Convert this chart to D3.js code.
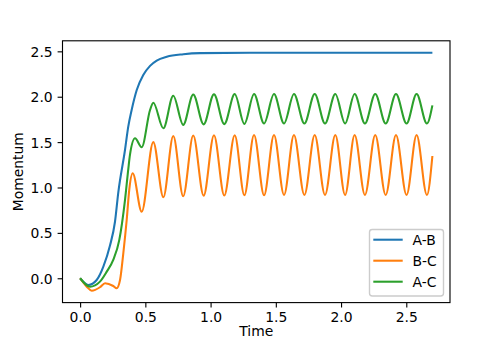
<!DOCTYPE html>
<html>
<head>
<meta charset="utf-8">
<script src="https://cdn.jsdelivr.net/npm/d3@7"></script>
<style>
  html, body { margin: 0; padding: 0; background: #fff; }
  svg { display: block; font-family: "DejaVu Sans", sans-serif; }
</style>
</head>
<body>
<svg id="chart" width="500" height="340"></svg>
<script>
// Momentum of each pair over time
const abTime  = [0, 0.063, 0.127, 0.178, 0.229, 0.267, 0.293, 0.344, 0.369, 0.395, 0.434, 0.484, 0.536, 0.587, 0.664, 0.791, 0.919, 1.30, 2.70];
const abValue = [0, -0.074, -0.019, 0.128, 0.360, 0.620, 0.950, 1.413, 1.670, 1.854, 2.074, 2.239, 2.340, 2.398, 2.440, 2.468, 2.480, 2.485, 2.485];

const bcTime  = [0, 0.051, 0.089, 0.152, 0.191, 0.254, 0.280, 0.306, 0.331, 0.357, 0.377, 0.403, 0.472, 0.561,
                 0.638, 0.714, 0.790, 0.867, 0.947, 1.026, 1.105, 1.185, 1.259, 1.333, 1.410, 1.486, 1.563, 1.639,
                 1.719, 1.798, 1.877, 1.956, 2.031, 2.104, 2.183, 2.262, 2.342, 2.421, 2.502, 2.579, 2.658, 2.700];
const bcValue = [0, -0.093, -0.137, -0.099, -0.055, -0.085, -0.110, -0.019, 0.275, 0.642, 0.980, 1.156, 0.733, 1.500,
                 0.892, 1.567, 0.905, 1.572, 0.910, 1.575, 0.912, 1.575, 0.915, 1.578, 0.915, 1.578, 0.917, 1.578,
                 0.917, 1.578, 0.917, 1.578, 0.917, 1.578, 0.917, 1.578, 0.917, 1.578, 0.917, 1.578, 0.917, 1.347];

const acTime  = [0, 0.076, 0.152, 0.204, 0.254, 0.300, 0.344, 0.369, 0.382, 0.421, 0.472, 0.536, 0.561,
                 0.638, 0.714, 0.790, 0.867, 0.947, 1.026, 1.105, 1.185, 1.259, 1.333, 1.410, 1.486, 1.563, 1.639,
                 1.719, 1.798, 1.877, 1.956, 2.031, 2.104, 2.183, 2.262, 2.342, 2.421, 2.502, 2.579, 2.658, 2.700];
const acValue = [0, -0.093, -0.037, 0.073, 0.202, 0.420, 0.862, 1.200, 1.360, 1.542, 1.443, 1.854, 1.934,
                 1.652, 2.011, 1.690, 2.025, 1.695, 2.028, 1.698, 2.030, 1.700, 2.030, 1.705, 2.030, 1.705, 2.030,
                 1.705, 2.030, 1.705, 2.030, 1.705, 2.030, 1.705, 2.030, 1.705, 2.030, 1.705, 2.030, 1.705, 1.905];

const seriesNames  = ["A-B", "B-C", "A-C"];
const seriesColors = ["#1f77b4", "#ff7f0e", "#2ca02c"];
const xTicks = [0.0, 0.5, 1.0, 1.5, 2.0, 2.5];
const yTicks = [0.0, 0.5, 1.0, 1.5, 2.0, 2.5];
const xTitle = "Time";
const yTitle = "Momentum";

const series = [
  { name: seriesNames[0], color: seriesColors[0], pts: abTime.map((t, i) => [t, abValue[i]]) },
  { name: seriesNames[1], color: seriesColors[1], pts: bcTime.map((t, i) => [t, bcValue[i]]) },
  { name: seriesNames[2], color: seriesColors[2], pts: acTime.map((t, i) => [t, acValue[i]]) }
];

// Plot frame
const L = 62.5, R = 450, T = 40.8, B = 302.6;
const fs = 13.9;
const lw = 2.08;      // 1.5pt lines
const thin = 1.11;    // 0.8pt spines and ticks

// Domains padded by 5% of the data span on each side
const allPts = series.flatMap(s => s.pts);
const [x0, x1] = d3.extent(allPts, p => p[0]);
const [y0, y1] = d3.extent(allPts, p => p[1]);
const xm = (x1 - x0) * 0.05, ym = (y1 - y0) * 0.05;

const x = d3.scaleLinear().domain([x0 - xm, x1 + xm]).range([L, R]);
const y = d3.scaleLinear().domain([y0 - ym, y1 + ym]).range([B, T]);

const svg = d3.select("#chart");

const line = d3.line()
  .x(p => x(p[0]))
  .y(p => y(p[1]))
  .curve(d3.curveMonotoneX);

const plot = svg.append("g");
plot.append("clipPath").attr("id", "clip")
  .append("rect").attr("x", L).attr("y", T).attr("width", R - L).attr("height", B - T);

plot.append("g").attr("clip-path", "url(#clip)")
  .selectAll("path").data(series).join("path")
  .attr("d", s => line(s.pts))
  .attr("fill", "none")
  .attr("stroke", s => s.color)
  .attr("stroke-width", lw)
  .attr("stroke-linejoin", "round")
  .attr("stroke-linecap", "butt");

// Axes
const fmt = d3.format(".1f");
const xAxis = svg.append("g").attr("transform", `translate(0,${B})`)
  .call(d3.axisBottom(x).tickValues(xTicks).tickFormat(fmt).tickSize(4.9).tickPadding(4.9));
const yAxis = svg.append("g").attr("transform", `translate(${L},0)`)
  .call(d3.axisLeft(y).tickValues(yTicks).tickFormat(fmt).tickSize(4.9).tickPadding(4.9));

[xAxis, yAxis].forEach(g => {
  g.select(".domain").remove();
  g.selectAll(".tick line").attr("stroke", "#000").attr("stroke-width", thin);
  g.selectAll(".tick text")
    .attr("fill", "#000")
    .style("font-family", "'DejaVu Sans', sans-serif")
    .style("font-size", fs + "px");
});
yAxis.selectAll(".tick text").attr("dy", "0.36em");

// Spines
svg.append("rect")
  .attr("x", L).attr("y", T).attr("width", R - L).attr("height", B - T)
  .attr("fill", "none").attr("stroke", "#000").attr("stroke-width", thin);

// Axis titles
svg.append("text")
  .attr("x", (L + R) / 2).attr("y", 336)
  .attr("text-anchor", "middle")
  .style("font-size", fs + "px")
  .text(xTitle);

svg.append("text")
  .attr("transform", `translate(23,${(T + B) / 2}) rotate(-90)`)
  .attr("text-anchor", "middle")
  .style("font-size", fs + "px")
  .text(yTitle);

// Legend
const leg = svg.append("g");
leg.append("rect")
  .attr("x", 369.5).attr("y", 229.5).attr("width", 74).attr("height", 66.5)
  .attr("rx", 2.8).attr("ry", 2.8)
  .attr("fill", "#fff").attr("fill-opacity", 0.8)
  .attr("stroke", "#cccccc").attr("stroke-width", 1.39);

const rows = leg.selectAll("g.row").data(series).join("g")
  .attr("class", "row")
  .attr("transform", (d, i) => `translate(0,${239.7 + i * 21})`);
rows.append("line")
  .attr("x1", 373.3).attr("x2", 402.7).attr("y1", 0).attr("y2", 0)
  .attr("stroke", d => d.color).attr("stroke-width", lw);
rows.append("text")
  .attr("x", 412.5).attr("y", 0).attr("dy", "0.36em")
  .style("font-size", fs + "px")
  .text(d => d.name);
</script>
</body>
</html>
